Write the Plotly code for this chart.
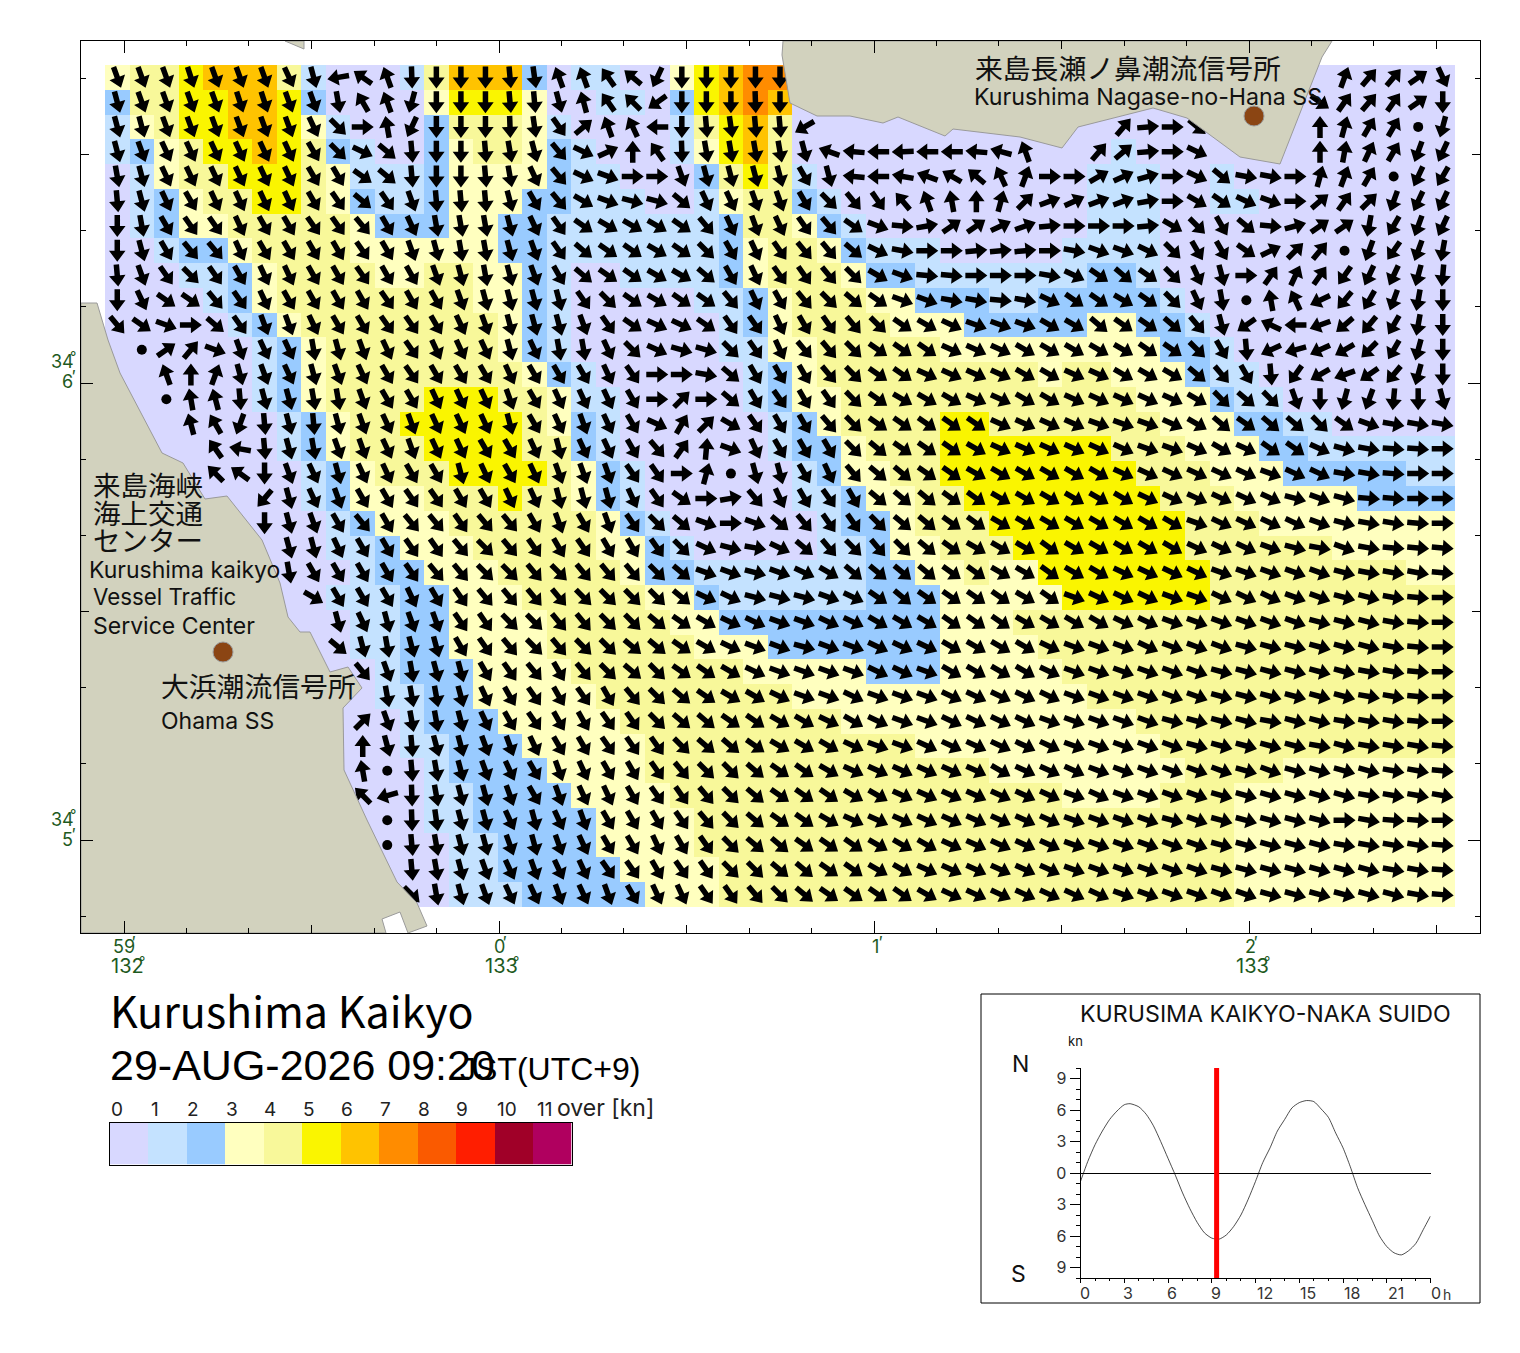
import numpy as np
import plotly.graph_objects as go

W, H = 1520, 1353
FONT = "Noto Sans CJK JP"
LATIN = "Inter"

# ---------- speed class per grid cell (rows north to south, 55 columns) ----------
SPEED_ROWS = [
 "3445666410 0014666201 1003567700 0000000000 0000000000 00000",
 "2445566520 0003555300 1102567600 0000000000 0000000000 00000",
 "1345566531 0002444310 0001456400 0000000000 0000000000 00000",
 "1234556542 1002344321 0001356400 0000000000 0100000000 00000",
 "0134455543 1112333321 1000245410 0000000000 1110010000 00000",
 "0123445543 2112333221 1100134421 0000000000 1110011000 00000",
 "0123344444 3222332211 1111124432 1000000000 1110000000 00000",
 "0012234444 3333332211 1111123443 2111000001 1110000000 00000",
 "0001123444 4334433210 0111123444 3221111111 2210000000 00000",
 "0000123444 4444433210 0000112344 4332221122 2221000000 00000",
 "0000012344 4444443210 0000012344 4433322222 3322100000 00000",
 "0000001234 4444443210 0000011334 4444333333 3332210000 00000",
 "0000001234 4444444321 0000001234 4444444434 4333211000 00000",
 "0000001234 4445554431 1000001233 4444444444 4433321100 00000",
 "0000000123 4455555432 1000000123 4444554444 4443332211 00000",
 "0000000123 4445555442 1000000122 3444555555 5444333221 11111",
 "0000000012 3444555543 2100000012 3344555555 5544433322 22211",
 "0000000012 3334445443 2100000011 2334455555 5554443333 32222",
 "0000000001 2333444444 3210000001 2234445555 5555444333 33333",
 "0000000001 1233344444 3321000001 1233444555 5555444444 33333",
 "0000000000 1223334444 4322111111 1223343355 5555544444 44433",
 "0000000001 1122333444 4433211111 1222333335 5555544444 44444",
 "0000000000 1122333344 4443322222 2222333444 4444444444 44444",
 "0000000000 1122333344 4444333222 2222333344 4444444444 44444",
 "0000000000 0122233334 4444443333 3222333334 4444444444 44444",
 "0000000000 0112233333 4444444433 3333333333 4444444444 44444",
 "0000000000 0012223333 3444444444 3333333333 3344444444 44444",
 "0000000000 0011222333 3344444444 4443333333 3334444444 44444",
 "0000000000 0001222233 3344444444 4444443333 3333444433 33333",
 "0000000000 0001122223 3334444444 4444444443 3334443333 33333",
 "0000000000 0001122222 3333444444 4444444444 4444443333 33333",
 "0000000000 0000112222 3333444444 4444444444 4444443333 33333",
 "0000000000 0000112222 2333344444 4444444444 4444443333 33333",
 "0000000000 0000111222 2233344444 4444444444 4444443333 33333",
]

# ---------- flow direction (compass degrees), "o" = slack water dot; {first column: values} ----------
DIR_ROWS = [
 {0: "160 160 160 162 160 160 160 155 165 260 305 340 178 180 180 180 175 172 340 340 325 310 205 180 180 180 180 180",
  50: "20 40 40 55 155"},
 {0: "165 160 160 160 160 162 162 160 160 170 330 340 195 180 180 180 175 175 165 345 325 315 235 180 180 180 178 180",
  49: "125 35 40 35 55 180"},
 {0: "165 165 160 160 160 160 160 160 155 135 90 350 205 180 180 180 178 172 145 50 340 335 270 180 175 172 175 175 240",
  41: "40 85 90 130", 49: "0 15 30 30 o 195"},
 {0: "165 160 155 155 155 155 155 155 150 135 115 130 175 180 180 175 170 165 140 115 65 0 325 178 170 170 170 170 165 290 275 270 268 270 270 275 285 340",
  40: "40 50 85 90 115", 49: "0 10 25 30 200 205"},
 {0: "170 165 155 155 155 155 155 155 150 150 125 130 175 180 180 175 170 155 140 115 110 90 90 160 165 165 165 165 150 165 275 270 280 290 300 310 335 20 90 90 60 65 75 90 115 130 100 100 90 15 20 30 o 205 210"},
 {0: "175 165 155 150 155 155 155 155 150 145 130 145 160 175 175 175 165 150 140 120 110 105 105 130 155 155 160 160 150 135 140 145 320 340 350 0 15 45 70 65 70 70 80 90 120 125 115 110 90 50 35 45 200 205 205"},
 {0: "180 170 150 145 145 155 150 150 145 145 140 150 155 170 170 170 165 155 145 125 120 120 120 125 140 155 160 155 145 140 125 110 95 80 55 55 65 70 85 90 90 90 85 120 135 150 130 95 75 55 55 190 210 200 205"},
 {0: "180 165 150 140 140 155 150 150 150 150 145 150 160 165 170 170 165 160 145 130 125 125 120 125 135 150 155 145 140 140 130 115 100 90 90 85 85 85 90 100 110 110 115 135 150 150 125 65 45 40 o 200 215 200 190"},
 {0: "175 160 145 135 145 150 155 155 150 150 145 150 150 160 165 170 165 160 150 130 125 125 120 120 130 150 155 145 145 140 135 120 110 95 95 90 90 90 100 115 125 130 125 135 155 165 90 35 25 35 215 205 205 195 185"},
 {0: "180 155 125 125 140 145 155 150 150 150 150 145 150 150 160 165 165 165 165 145 135 125 120 125 125 140 155 150 140 135 130 125 110 110 100 100 95 100 115 125 125 120 125 135 155 170 o 350 335 245 220 210 200 190 180"},
 {0: "140 125 110 90 130 145 160 160 155 150 150 145 145 150 155 160 165 165 165 160 145 125 115 115 125 145 145 155 150 145 140 135 125 120 115 110 110 110 120 120 130 125 125 130 140 165 235 295 270 250 230 220 210 190 180"},
 {1: "o 55 40 110 160 155 155 170 165 160 155 145 155 155 155 165 155 170 170 155 135 115 105 105 135 145 155 140 140 135 125 125 125 115 115 115 120 120 120 120 120 125 125 135 150 175 245 255 245 240 225 210 195 180"},
 {2: "340 0 20 165 160 155 165 160 155 150 145 150 150 150 155 150 150 150 155 145 90 90 100 130 150 150 150 140 135 125 125 115 115 115 115 120 120 115 115 120 120 120 130 140 150 175 215 240 250 235 220 195 180"},
 {2: "o 350 345 175 165 165 170 170 160 150 150 155 155 155 160 150 155 155 155 150 90 45 90 130 150 145 150 145 135 125 120 120 120 115 115 120 120 115 115 115 115 115 120 135 130 135 160 180 195 200 185 180 165"},
 {3: "345 330 200 175 165 175 165 160 155 160 155 155 155 165 150 155 160 155 150 115 30 45 120 145 150 150 140 135 125 125 125 125 125 115 115 115 115 110 110 110 115 120 130 125 130 130 135 125 110 100 100 100"},
 {4: "325 280 175 165 170 160 160 155 160 155 155 150 150 155 165 155 155 150 140 35 5 110 155 150 150 150 135 130 125 125 125 120 115 115 115 115 115 115 110 110 115 120 115 125 125 115 105 100 95 95 90"},
 {4: "315 305 180 160 155 165 155 155 150 150 165 155 150 155 160 160 160 145 145 90 15 o 165 165 150 155 140 130 130 125 125 120 120 120 120 120 120 115 115 115 115 115 115 110 115 115 100 100 95 90 90"},
 {6: "220 165 155 160 150 150 145 145 150 150 155 155 165 165 165 155 145 125 90 80 140 155 150 145 150 130 130 130 125 125 120 120 120 120 120 120 115 115 115 115 115 115 105 110 105 95 95 90 90"},
 {6: "180 165 160 150 140 150 140 140 145 140 140 150 160 150 160 145 135 130 110 90 110 130 140 145 145 135 130 130 125 125 120 120 120 120 120 120 120 120 110 115 115 115 115 110 105 100 100 95 90"},
 {7: "165 165 155 150 150 145 145 140 135 140 145 150 145 150 150 145 135 115 105 100 115 130 140 135 140 135 130 125 120 120 120 125 120 120 120 120 120 115 115 115 110 105 100 110 100 95 95 95"},
 {7: "170 150 150 150 150 145 140 140 135 135 140 135 140 140 140 135 130 110 110 105 110 115 120 130 130 130 130 125 125 120 120 125 120 120 115 115 115 115 110 110 110 110 110 105 100 100 100 95"},
 {8: "120 150 150 150 155 150 145 140 140 140 140 135 135 135 135 130 115 115 105 105 105 110 115 125 130 125 125 125 125 120 125 110 115 115 115 110 110 115 115 115 110 110 105 105 100 95 90"},
 {9: "165 155 165 160 160 145 145 135 135 140 140 135 135 130 125 120 115 115 110 110 115 115 120 120 120 125 125 125 120 120 120 120 115 115 110 110 110 110 110 110 105 105 105 100 95 90"},
 {9: "130 165 170 165 165 150 145 140 135 140 135 135 130 130 125 120 115 110 110 105 110 110 115 115 115 120 120 120 120 115 110 110 110 115 110 110 110 105 105 105 105 105 105 100 95 90"},
 {10: "140 160 170 165 165 150 145 140 150 140 135 130 135 125 125 120 115 110 110 110 110 115 115 110 120 120 120 120 115 110 110 110 110 110 110 105 105 105 105 105 105 100 100 95 90"},
 {11: "170 170 170 165 155 150 145 150 145 150 140 135 130 125 120 120 115 110 110 115 110 110 110 115 115 115 115 115 110 110 110 110 110 110 105 105 105 105 105 105 100 100 95 90"},
 {10: "45 160 170 170 165 155 150 145 150 150 145 145 135 130 130 125 125 120 120 115 120 115 110 110 115 115 115 115 110 110 110 110 110 105 105 105 105 100 105 105 100 100 100 95 90"},
 {10: "0 165 175 165 165 160 160 155 150 150 145 145 145 135 130 130 125 120 120 120 115 110 110 115 115 115 115 115 115 110 110 110 110 110 105 105 105 105 105 100 105 100 100 100 95"},
 {10: "350 o 175 170 165 160 155 150 160 155 150 150 145 140 135 135 130 125 125 120 115 115 115 115 115 115 120 115 115 115 110 110 110 110 110 110 105 110 105 105 105 105 100 100 95"},
 {10: "315 255 178 170 165 165 160 150 160 155 155 150 145 145 140 135 130 125 125 125 120 120 115 115 115 115 115 115 115 110 115 110 110 110 110 105 105 105 105 105 105 100 100 100 100"},
 {11: "o 178 172 165 165 155 165 155 160 150 150 150 145 140 135 130 125 125 120 115 115 115 115 115 115 115 115 115 110 110 110 110 105 110 105 105 105 105 105 90 100 95 95 90"},
 {11: "o 175 170 165 165 160 165 160 155 150 150 155 150 145 135 130 130 125 125 125 120 120 120 115 115 115 115 115 110 110 110 110 110 110 105 105 105 105 105 100 100 100 100 95"},
 {12: "175 170 165 160 155 160 155 155 145 145 150 145 145 135 135 130 130 125 125 120 120 115 115 115 115 115 115 110 110 110 110 110 110 105 105 105 105 105 105 105 100 100 95"},
 {12: "135 170 165 160 155 155 160 155 160 150 155 155 145 145 140 135 130 125 125 125 125 120 115 115 115 115 115 115 115 110 110 110 110 110 110 105 105 105 105 105 105 100 95"},
]

SPEED_COLORS = ["#D8D8FF", "#C4E2FF", "#99CBFF", "#FFFFBF", "#F8F89A", "#FAF500",
                "#FFC300", "#FF8C00", "#FA5A00", "#FF1E00", "#A00028", "#B0005F"]
LEGEND_LABELS = ["0", "1", "2", "3", "4", "5", "6", "7", "8", "9", "10", "11"]

# ---------- tide curve (knots, north positive) ----------
TIDE_HOURS = [0, .5, 1, 1.5, 2, 2.5, 3, 3.4, 4, 4.5, 5, 5.5, 6, 6.5, 7, 7.5, 8, 8.5, 9, 9.5, 10, 10.5, 11, 11.5, 12,
              12.5, 13, 13.5, 14, 14.5, 15, 15.5, 16, 16.5, 17, 17.5, 18, 18.5, 19, 19.5, 20, 20.5, 21, 21.5, 22, 22.5,
              23, 23.5, 24]
TIDE_KNOTS = [-0.8, 1.1, 2.7, 4.0, 5.1, 5.9, 6.5, 6.6, 6.3, 5.6, 4.5, 3.0, 1.4, -0.2, -1.9, -3.4, -4.7, -5.7, -6.2, -6.3,
              -5.9, -5.1, -4.0, -2.5, -0.8, 1.0, 2.4, 4.0, 5.1, 6.2, 6.7, 6.9, 6.8, 6.1, 5.3, 3.8, 2.4, 0.6, -1.4, -3.0,
              -4.5, -6.0, -7.0, -7.6, -7.8, -7.4, -6.7, -5.4, -4.1]
TIDE_TICK_LABELS = ["0", "3", "6", "9", "12", "15", "18", "21", "0"]
TIDE_LABEL_PX = [1085, 1128, 1172, 1216, 1265, 1308, 1352, 1396, 1436]
NOW_HOUR = 9 + 20 / 60

# ---------- map scale: reference pixels to minutes of arc ----------
def lon(px):  # minutes east of 133 deg
    return (np.asarray(px, float) - 499.0) / 375.0
def lat(py):  # minutes north of 34 deg
    return 5.0 + (840.0 - np.asarray(py, float)) / 457.0
PX_PER_LON, PX_PER_LAT = 375.0, 457.0

GRID_X0, GRID_Y0, CELL_W, CELL_H = 105.0, 65.0, 1350.0 / 55, 842.0 / 34
NCOL, NROW = 55, 34

# Coast outlines (reference pixels)
WEST_COAST = [(81, 303), (97, 303), (108, 340), (120, 373), (162, 453), (183, 463), (205, 499), (227, 496), (262, 540),
              (280, 583), (288, 617), (300, 632), (310, 632), (330, 672), (348, 667), (362, 688), (343, 708), (344, 770),
              (367, 820), (397, 882), (417, 903), (427, 926), (408, 933), (400, 912), (382, 919), (386, 933), (81, 933)]
NORTH_COAST = [(783, 41), (782, 55), (790, 103), (817, 116), (850, 116), (883, 123), (898, 117), (945, 136), (953, 129),
               (1020, 137), (1062, 148), (1078, 127), (1153, 108), (1187, 118), (1240, 157), (1280, 164), (1322, 57),
               (1332, 41)]
NORTH_STUB = [(285, 41), (304, 49), (304, 41)]
STATIONS = [(1254, 116), (223, 652)]

# ---------- build grid ----------
speed = [[int(c) for c in r.replace(" ", "")] for r in SPEED_ROWS]
assert all(len(r) == NCOL for r in speed), [len(r) for r in speed]
xc = lon(GRID_X0 + CELL_W * (np.arange(NCOL) + .5))
yc = lat(GRID_Y0 + CELL_H * (np.arange(NROW) + .5))

ax, ay, dx, dy = [], [], [], []
# arrow outline in pixels, pointing +y (tip forward), centred on the cell
L, HL, HW, SW = 22.0, 11.0, 16.5, 5.5
outline = np.array([(-SW/2, -L/2), (SW/2, -L/2), (SW/2, L/2-HL), (HW/2, L/2-HL), (0, L/2),
                    (-HW/2, L/2-HL), (-SW/2, L/2-HL)])
for r, row in enumerate(DIR_ROWS):
    for start, txt in row.items():
        toks = txt.split()
        assert start + len(toks) <= NCOL, (r, start, len(toks))
        for i, t in enumerate(toks):
            c = start + i
            if t == "o":
                dx.append(xc[c]); dy.append(yc[r])
                continue
            th = np.deg2rad(float(t))
            sin, cos = np.sin(th), np.cos(th)
            ox = outline[:, 0] * cos + outline[:, 1] * sin
            oy = -outline[:, 0] * sin + outline[:, 1] * cos
            ax += list(xc[c] + ox / PX_PER_LON) + [xc[c] + ox[0] / PX_PER_LON, None]
            ay += list(yc[r] + oy / PX_PER_LAT) + [yc[r] + oy[0] / PX_PER_LAT, None]

n = len(SPEED_COLORS)
cs = []
for i, col in enumerate(SPEED_COLORS):
    cs += [[i / n, col], [(i + 1) / n, col]]

fig = go.Figure()
fig.add_trace(go.Heatmap(x=xc, y=yc, z=speed, zmin=-.5, zmax=n - .5, colorscale=cs, showscale=False, hoverinfo="skip"))
fig.add_trace(go.Scatter(x=ax, y=ay, mode="lines", fill="toself", fillcolor="black", line=dict(width=0, color="black"),
                         hoverinfo="skip", showlegend=False))
fig.add_trace(go.Scatter(x=dx, y=dy, mode="markers", marker=dict(size=10, color="black"), hoverinfo="skip", showlegend=False))
for poly in (WEST_COAST, NORTH_COAST, NORTH_STUB):
    p = poly + poly[:1]
    fig.add_trace(go.Scatter(x=lon([a for a, _ in p]), y=lat([b for _, b in p]), mode="lines", fill="toself",
                             fillcolor="#D2D2BE", line=dict(width=1, color="#9A9A9A"), hoverinfo="skip", showlegend=False))
fig.add_trace(go.Scatter(x=lon([a for a, _ in STATIONS]), y=lat([b for _, b in STATIONS]), mode="markers",
                         marker=dict(size=20, color="#8B4513", line=dict(width=1, color="#9A9A9A")),
                         hoverinfo="skip", showlegend=False))
# invisible trace keeps the 30-second tick overlay alive
fig.add_trace(go.Scatter(x=[0], y=[5], xaxis="x2", yaxis="y2", mode="markers", marker=dict(opacity=0), hoverinfo="skip", showlegend=False))
# legend bar
fig.add_trace(go.Heatmap(z=[list(range(n))], x=list(range(n)), y=[0], xaxis="x3", yaxis="y3", zmin=-.5, zmax=n - .5,
                         colorscale=cs, showscale=False, hoverinfo="skip"))
# tide panel
fig.add_trace(go.Scatter(x=TIDE_HOURS, y=TIDE_KNOTS, xaxis="x4", yaxis="y4", mode="lines",
                         line=dict(color="black", width=0.7, shape="spline", smoothing=0.7),
                         hoverinfo="skip", showlegend=False))
fig.add_trace(go.Scatter(x=[NOW_HOUR, NOW_HOUR], y=[-10, 10], xaxis="x4", yaxis="y4", mode="lines", line=dict(color="#FF0000", width=5),
                         hoverinfo="skip", showlegend=False))

def domx(a, b): return [a / W, b / W]
def domy(top, bot): return [1 - bot / H, 1 - top / H]

xr = [float(lon(81)), float(lon(1480))]
yr = [float(lat(933)), float(lat(41))]
k_x = [-1, 0, 1, 2]
k_x_mid = [-0.5, 0.5, 1.5, 2.5]
k_x_min = [round(-1 + i / 6, 4) for i in range(0, 24)]
k_y = [5, 6]
k_y_mid = [5.5, 6.5, 4.5]
k_y_min = [round(4 + i / 6, 4) for i in range(0, 24)]
base = dict(showgrid=False, zeroline=False, showline=True, linecolor="black", linewidth=1, mirror="allticks",
            showticklabels=False, ticks="inside", tickcolor="black", tickwidth=1)
overlay = dict(showgrid=False, zeroline=False, showline=False, mirror="allticks", showticklabels=False,
               ticks="inside", tickcolor="black", tickwidth=1, ticklen=8)
tick_font = dict(family=LATIN, size=16, color="#333333")

fig.update_layout(
    width=W, height=H, autosize=False, margin=dict(l=0, r=0, t=0, b=0), paper_bgcolor="white", plot_bgcolor="white",
    showlegend=False,
    xaxis=dict(base, domain=domx(81, 1480), range=xr, tickmode="array", tickvals=k_x, ticklen=12, anchor="y",
               minor=dict(tickmode="array", tickvals=k_x_min, ticklen=5, ticks="inside", tickcolor="black", showgrid=False)),
    yaxis=dict(base, domain=domy(41, 933), range=yr, tickmode="array", tickvals=k_y, ticklen=12, anchor="x",
               minor=dict(tickmode="array", tickvals=k_y_min, ticklen=5, ticks="inside", tickcolor="black", showgrid=False)),
    xaxis2=dict(overlay, overlaying="x", range=xr, tickmode="array", tickvals=k_x_mid, anchor="y2", domain=domx(81, 1480)),
    yaxis2=dict(overlay, overlaying="y", range=yr, tickmode="array", tickvals=k_y_mid, anchor="x2", domain=domy(41, 933)),
    xaxis3=dict(domain=domx(109.5, 571.5), range=[-.5, n - .5], showgrid=False, zeroline=False, showline=True, mirror=True,
                linecolor="black", linewidth=1, showticklabels=False, ticks="", anchor="y3"),
    yaxis3=dict(domain=domy(1122.5, 1164.5), range=[-.5, .5], showgrid=False, zeroline=False, showline=True, mirror=True,
                linecolor="black", linewidth=1, showticklabels=False, ticks="", anchor="x3"),
    xaxis4=dict(domain=domx(1080.5, 1430.5), range=[0, 24], showgrid=False, zeroline=False, showline=True, linecolor="black",
                linewidth=1, ticks="outside", tickmode="array", tickvals=list(range(0, 25, 3)), showticklabels=False,
                ticklen=4, tickcolor="black", anchor="y4",
                minor=dict(tickmode="array", tickvals=list(range(0, 25)), ticklen=2, ticks="outside", tickcolor="black", showgrid=False)),
    yaxis4=dict(domain=domy(1068, 1278), range=[-10, 10], showgrid=False, zeroline=True, zerolinecolor="black", zerolinewidth=1,
                showline=True, linecolor="black", linewidth=1, ticks="outside", tickmode="array",
                tickvals=[-9, -6, -3, 0, 3, 6, 9], ticktext=["9", "6", "3", "0", "3", "6", "9"], ticklen=10, tickcolor="black",
                tickfont=tick_font, anchor="x4",
                minor=dict(tickmode="array", tickvals=list(range(-10, 11)), ticklen=4, ticks="outside", tickcolor="black", showgrid=False)),
    shapes=[dict(type="rect", xref="paper", yref="paper", x0=981 / W, x1=1480 / W, y0=1 - 1303 / H, y1=1 - 994 / H,
                 line=dict(color="black", width=1))],
)

GREEN = "#1E5A1E"
def note(txt, x, y, size, color="#111111", anchor="left", family=LATIN):
    fig.add_annotation(text=txt, x=(x - (3 if anchor == "left" else 0)) / W, y=1 - y / H, xref="paper", yref="paper", showarrow=False,
                       xanchor=anchor, yanchor="middle", font=dict(family=family, size=size, color=color), align="left")

# place labels
note("来島長瀬ノ鼻潮流信号所", 976, 67, 27.8, family=FONT)
note("Kurushima Nagase-no-Hana SS", 975, 97, 23.2)
note("来島海峡", 94, 484, 27.5, family=FONT)
note("海上交通", 94, 512, 27.5, family=FONT)
note("センター", 94, 539, 27.5, family=FONT)
note("Kurushima kaikyo", 90, 570, 23)
note("Vessel Traffic", 94, 597, 22.3)
note("Service Center", 94, 626, 23)
note("大浜潮流信号所", 162, 685, 27.8, family=FONT)
note("Ohama SS", 162, 721, 23)
# coordinate labels
note("59", 124, 946, 18, GREEN, "center"); note("′", 134, 943, 17, GREEN, "center")
note("132", 127.5, 966, 20, GREEN, "center"); note("°", 142, 961, 14, GREEN, "center")
note("0", 499, 946, 18, GREEN, "center"); note("′", 505, 943, 17, GREEN, "center")
note("133", 501.5, 966, 20, GREEN, "center"); note("°", 516, 961, 14, GREEN, "center")
note("1", 875, 946, 18, GREEN, "center"); note("′", 881, 943, 17, GREEN, "center")
note("2", 1250, 946, 18, GREEN, "center"); note("′", 1256, 943, 17, GREEN, "center")
note("133", 1252.5, 966, 20, GREEN, "center"); note("°", 1267, 961, 14, GREEN, "center")
note("34", 62, 361, 18, GREEN, "center"); note("°", 73, 356, 14, GREEN, "center")
note("6", 67, 381, 18, GREEN, "center"); note("′", 74, 377, 17, GREEN, "center")
note("34", 62, 819, 18, GREEN, "center"); note("°", 73, 814, 14, GREEN, "center")
note("5", 67, 839, 18, GREEN, "center"); note("′", 74, 835, 17, GREEN, "center")
# headings
note("Kurushima Kaikyo", 111, 1009, 43, "#000000", family=FONT)
note("29-AUG-2026 09:20", 111, 1065, 43, "#000000", family="Liberation Sans")
note("JST(UTC+9)", 461, 1069, 32, "#000000", family="Liberation Sans")
# legend labels
for i, lab in enumerate(LEGEND_LABELS):
    note(lab, 116.5 + 38.4 * i + (6 if i >= 10 else 0), 1109, 19, "#222222", "center")
note("over [kn]", 558, 1108, 23, "#222222")
# tide panel labels
note("KURUSIMA KAIKYO-NAKA SUIDO", 1081, 1014, 23.2)
note("kn", 1069, 1041, 13)
note("N", 1020, 1064, 23, "#111111", "center")
note("S", 1018, 1274, 23, "#111111", "center")
for lab, px in zip(TIDE_TICK_LABELS, TIDE_LABEL_PX):
    note(lab, px, 1293, 16, "#333333", "center")
note("h", 1447, 1294, 14, "#333333", "center")

fig.write_html("out.html", default_width=f"{W}px", default_height=f"{H}px",
               config={"displayModeBar": False, "responsive": False},
               post_script="document.body.style.margin='0';document.documentElement.style.overflow='hidden';")
